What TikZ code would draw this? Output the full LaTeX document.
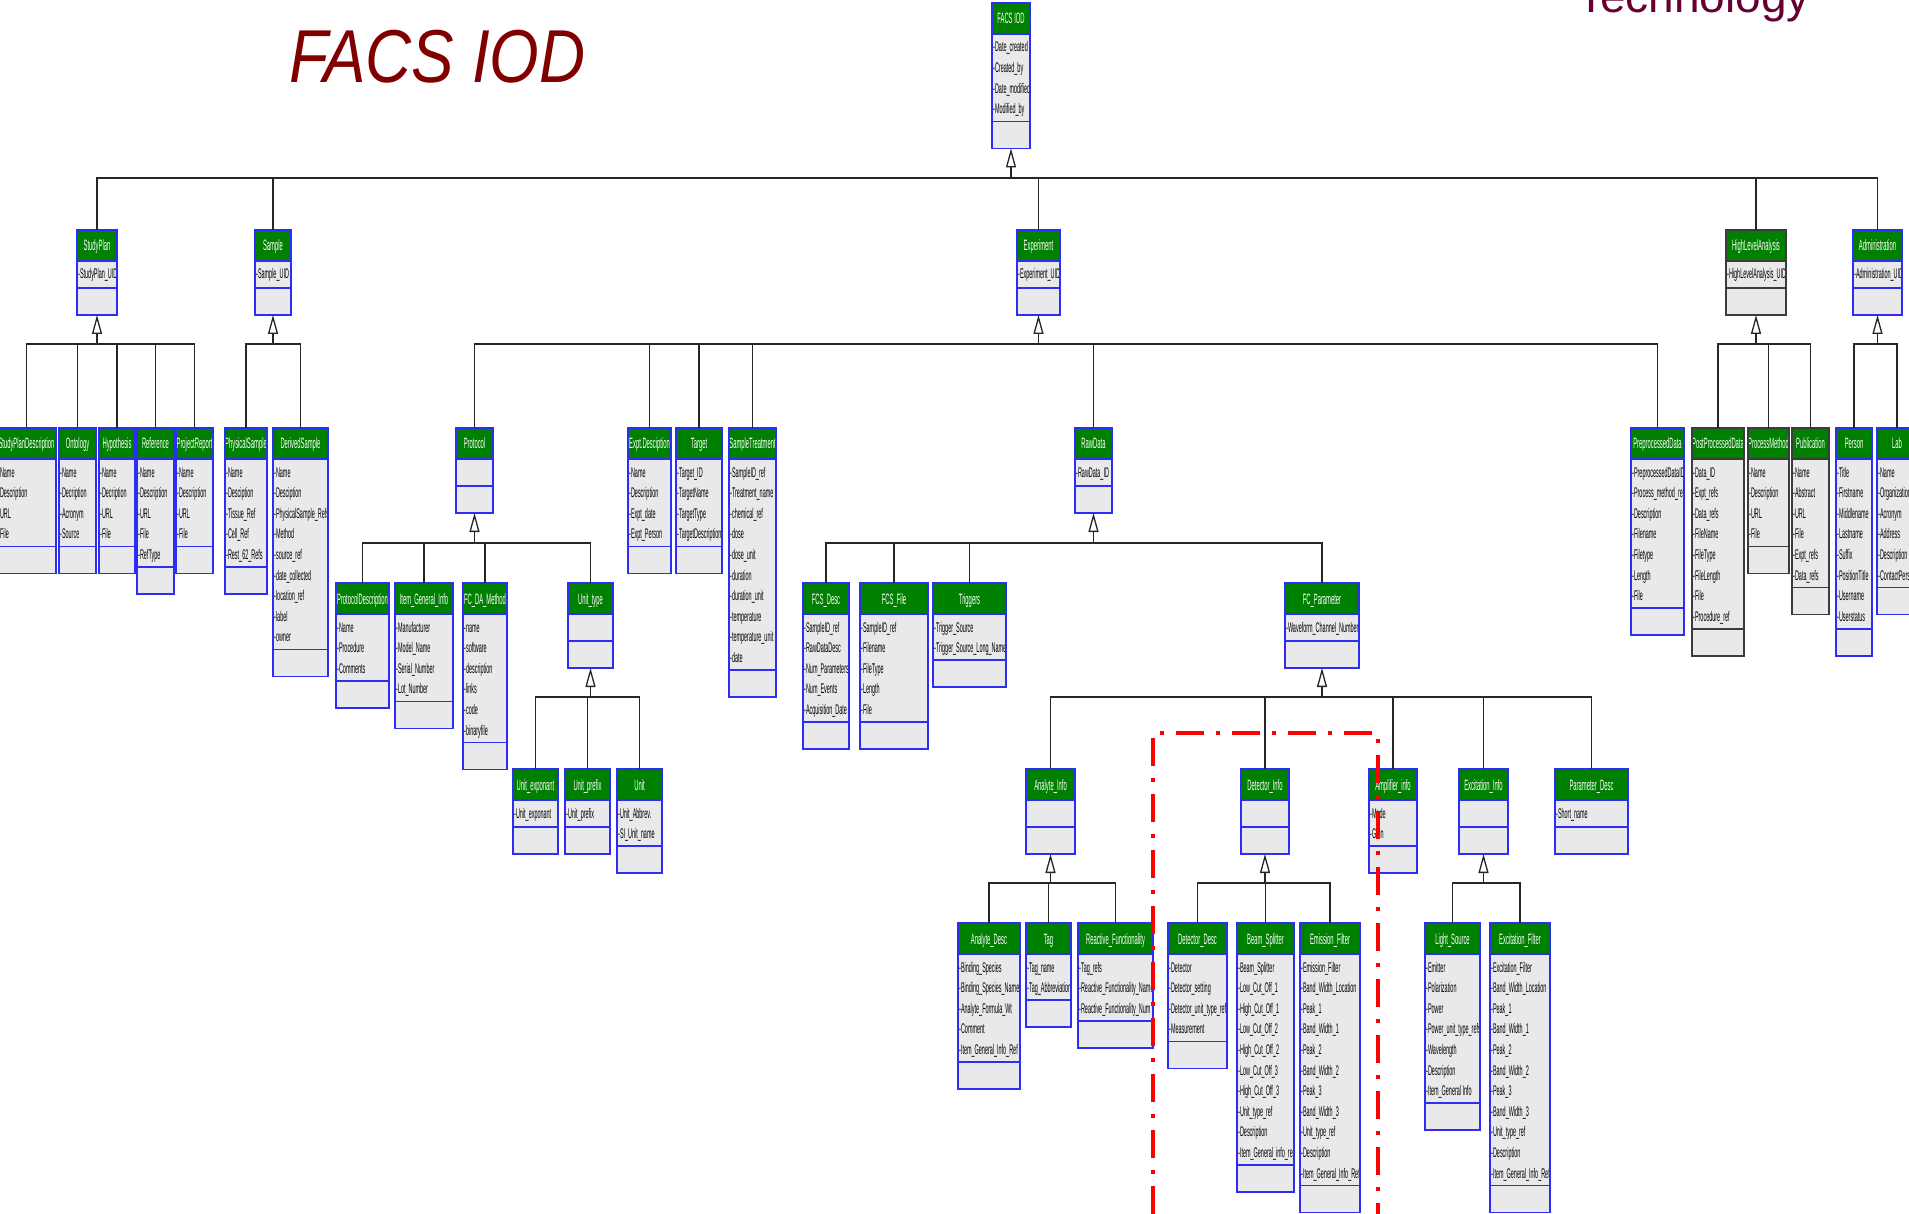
\documentclass[tikz,border=0pt]{standalone}
\usepackage{fontspec}
\setmainfont{Liberation Sans}
\newfontfamily\umlfont[FakeStretch=0.39]{Liberation Sans}
\newfontfamily\headfont[FakeStretch=0.85]{Liberation Sans}
\usetikzlibrary{arrows.meta,calc}
\definecolor{hdrgreen}{RGB}{0,128,0}
\definecolor{bodygray}{RGB}{233,233,233}
\definecolor{umlblue}{RGB}{45,45,245}
\definecolor{umldark}{RGB}{60,60,60}
\definecolor{titlered}{RGB}{128,0,0}
\definecolor{techmaroon}{RGB}{102,0,51}

\tikzset{
  classtitle/.style={font=\umlfont\fontsize{15}{17}\selectfont, text=white, inner sep=0, anchor=base},
  classattr/.style={font=\umlfont\fontsize{14}{16}\selectfont, text=black, inner sep=0, anchor=base west},
  classborder/.style={line width=1.5pt},
  conn/.style={line width=1.3pt, draw=black!85},
  gentip/.style={-{Triangle[length=19pt,width=10pt,fill=white]}},
  focusline/.style={draw=red, line width=4pt, dash pattern=on 28pt off 12pt on 4pt off 12pt},
}

% \umlclass[border]{name}{left}{right}{top}{rows}{title}{attributes}
\newcommand\umlclass[8][umlblue]{%
  \pgfmathsetmacro\clsHa{#5+31}%
  \pgfmathsetmacro\clsHb{\clsHa+max(#6*20.6+5,27)}%
  \pgfmathsetmacro\clsHc{\clsHb+27}%
  \pgfmathsetmacro\clsW{#4-(#3)}%
  \pgfmathsetmacro\clsH{\clsHc-(#5)}%
  \fill[bodygray] (#3,\clsHa) rectangle (#4,\clsHc);
  \fill[hdrgreen] (#3,#5) rectangle (#4,\clsHa);
  \begin{scope}
    \clip (#3,#5) rectangle (#4,\clsHc);
    \node[classtitle] at ({(#3+#4)/2},{#5+21}) {#7};
    \ifnum#6>0
      \foreach \t [count=\i] in {#8}{\node[classattr] at ({#3+1},{\clsHa+18+(\i-1)*20.6}) {-\t};}
    \fi
  \end{scope}
  \draw[classborder,draw=#1] (#3,#5) rectangle (#4,\clsHc) (#3,\clsHa) -- (#4,\clsHa) (#3,\clsHb) -- (#4,\clsHb);
  \node[inner sep=0,outer sep=0,minimum width=\clsW pt,minimum height=\clsH pt] (#2) at ({(#3+#4)/2},{(#5+\clsHc)/2}) {};
}

% \inherit{parent}{bus y}{children}
\newcommand\inherit[3]{%
  \coordinate (#1-bus) at (#1.south |- 0,#2);
  \foreach \c in {#3}{\draw[conn] (\c.north) |- (#1-bus);}
  \draw[conn,gentip] (#1-bus) -- (#1.south);
}

\begin{document}
\begin{tikzpicture}[x=1pt,y=-1pt]
\useasboundingbox (0,0) rectangle (1909,1214);
\fill[white] (0,0) rectangle (1909,1214);

% headings
\node[anchor=base west, inner sep=0, text=titlered, font=\headfont\itshape\fontsize{75}{80}\selectfont] (doctitle) at (289,83) {FACS IOD};
\node[anchor=base west, inner sep=0, text=techmaroon, font=\fontsize{46}{50}\selectfont] (techlabel) at (1577,13) {Technology};

% root
\umlclass{facs}{992}{1030}{3}{4}{FACS IOD}{Date\_created,Created\_by,Date\_modified,Modified\_by}

% first level
\umlclass{studyplan}{77}{117}{230}{1}{StudyPlan}{StudyPlan\_UID}
\umlclass{sample}{255}{291}{230}{1}{Sample}{Sample\_UID}
\umlclass{experiment}{1017}{1060}{230}{1}{Experiment}{Experiment\_UID}
\umlclass[umldark]{hla}{1726}{1786}{230}{1}{HighLevelAnalysis}{HighLevelAnalysis\_UID}
\umlclass{admin}{1853}{1902}{230}{1}{Administration}{Administration\_UID}

% second level
\umlclass{spdesc}{-3}{56}{428}{4}{StudyPlanDescription}{Name,Description,URL,File}
\umlclass{ontology}{59}{96}{428}{4}{Ontology}{Name,Decription,Acronym,Source}
\umlclass{hypothesis}{99}{135}{428}{4}{Hypothesis}{Name,Decription,URL,File}
\umlclass{reference}{137}{174}{428}{5}{Reference}{Name,Description,URL,File,RefType}
\umlclass{projreport}{176}{213}{428}{4}{ProjectReport}{Name,Description,URL,File}
\umlclass{physsample}{225}{267}{428}{5}{PhysicalSample}{Name,Desciption,Tissue\_Ref,Cell\_Ref,Rest\_62\_Refs}
\umlclass{derivsample}{273}{328}{428}{9}{DerivedSample}{Name,Desciption,PhysicalSample\_Refs,Method,source\_ref,date\_collected,location\_ref,label,owner}
\umlclass{protocol}{456}{493}{428}{0}{Protocol}{}
\umlclass{exptdesc}{628}{671}{428}{4}{Expt.Desciption}{Name,Description,Expt\_date,Expt\_Person}
\umlclass{target}{676}{722}{428}{4}{Target}{Target\_ID,TargetName,TargetType,TargetDescription}
\umlclass{sampletreat}{729}{776}{428}{10}{SampleTreatment}{SampleID\_ref,Treatment\_name,chemical\_ref,dose,dose\_unit,duration,duration\_unit,temperature,temperature\_unit,date}
\umlclass{rawdata}{1075}{1112}{428}{1}{RawData}{RawData\_ID}
\umlclass{preproc}{1631}{1684}{428}{7}{PreprocessedData}{PreprocessedDataID,Process\_method\_ref,Description,Filename,Filetype,Length,File}
\umlclass[umldark]{postproc}{1692}{1744}{428}{8}{PostProcessedData}{Data\_ID,Expt\_refs,Data\_refs,FileName,FileType,FileLength,File,Procedure\_ref}
\umlclass[umldark]{procmethod}{1748}{1789}{428}{4}{ProcessMethod}{Name,Description,URL,File}
\umlclass[umldark]{publication}{1792}{1829}{428}{6}{Publication}{Name,Abstract,URL,File,Expt\_refs,Data\_refs}
\umlclass{person}{1836}{1872}{428}{8}{Person}{Title,Firstname,Middlename,Lastname,Suffix,PositionTitle,Username,Userstatus}
\umlclass{lab}{1877}{1917}{428}{6}{Lab}{Name,Organization,Acronym,Address,Description,ContactPerson}

% third level
\umlclass{protdesc}{336}{389}{583}{3}{ProtocolDescription}{Name,Procedure,Comments}
\umlclass{itemgi}{395}{453}{583}{4}{Item\_General\_Info}{Manufacturer,Model\_Name,Serial\_Number,Lot\_Number}
\umlclass{fcda}{463}{507}{583}{6}{FC\_DA\_Method}{name,software,description,links,code,binaryfile}
\umlclass{unittype}{568}{613}{583}{0}{Unit\_type}{}
\umlclass{fcsdesc}{803}{849}{583}{5}{FCS\_Desc}{SampleID\_ref,RawDataDesc,Num\_Parameters,Num\_Events,Acquisition\_Date}
\umlclass{fcsfile}{860}{928}{583}{5}{FCS\_File}{SampleID\_ref,Filename,FileType,Length,File}
\umlclass{triggers}{933}{1006}{583}{2}{Triggers}{Trigger\_Source,Trigger\_Source\_Long\_Name}
\umlclass{fcparam}{1285}{1359}{583}{1}{FC\_Parameter}{Waveform\_Channel\_Number}

% fourth level
\umlclass{unitexp}{513}{558}{769}{1}{Unit\_exponant}{Unit\_exponant}
\umlclass{unitprefix}{565}{610}{769}{1}{Unit\_prefix}{Unit\_prefix}
\umlclass{unit}{617}{662}{769}{2}{Unit}{Unit\_Abbrev.,SI\_Unit\_name}
\umlclass{analyteinfo}{1026}{1075}{769}{0}{Analyte\_Info}{}
\umlclass{detinfo}{1241}{1289}{769}{0}{Detector\_Info}{}
\umlclass{ampinfo}{1369}{1417}{769}{2}{Amplifier\_info}{Mode,Gain}
\umlclass{excinfo}{1459}{1508}{769}{0}{Excitation\_Info}{}
\umlclass{paramdesc}{1555}{1628}{769}{1}{Parameter\_Desc}{Short\_name}

% fifth level
\umlclass{analytedesc}{958}{1020}{923}{5}{Analyte\_Desc}{Binding\_Species,Binding\_Species\_Name,Analyte\_Formula\_Wt,Comment,Item\_General\_Info\_Ref}
\umlclass{tag}{1026}{1071}{923}{2}{Tag}{Tag\_name,Tag\_Abbreviation}
\umlclass{reactive}{1078}{1153}{923}{3}{Reactive\_Functionality}{Tag\_refs,Reactive\_Functionality\_Name,Reactive\_Functionality\_Num}
\umlclass{detdesc}{1168}{1227}{923}{4}{Detector\_Desc}{Detector,Detector\_setting,Detector\_unit\_type\_ref,Measurement}
\umlclass{beamsplit}{1237}{1294}{923}{10}{Beam\_Splitter}{Beam\_Splitter,Low\_Cut\_Off\_1,High\_Cut\_Off\_1,Low\_Cut\_Off\_2,High\_Cut\_Off\_2,Low\_Cut\_Off\_3,High\_Cut\_Off\_3,Unit\_type\_ref,Description,Item\_General\_info\_ref}
\umlclass{emfilter}{1300}{1360}{923}{11}{Emission\_Filter}{Emission\_Filter,Band\_Width\_Location,Peak\_1,Band\_Width\_1,Peak\_2,Band\_Width\_2,Peak\_3,Band\_Width\_3,Unit\_type\_ref,Description,Item\_General\_Info\_Ref}
\umlclass{lightsrc}{1425}{1480}{923}{7}{Light\_Source}{Emitter,Polarization,Power,Power\_unit\_type\_refs,Wavelength,Description,Item\_General Info}
\umlclass{excfilter}{1490}{1550}{923}{11}{Excitation\_Filter}{Excitation\_Filter,Band\_Width\_Location,Peak\_1,Band\_Width\_1,Peak\_2,Band\_Width\_2,Peak\_3,Band\_Width\_3,Unit\_type\_ref,Description,Item\_General\_Info\_Ref}

% generalisation connectors
\inherit{facs}{178}{studyplan,sample,experiment,hla,admin}
\inherit{studyplan}{344}{spdesc,ontology,hypothesis,reference,projreport}
\inherit{sample}{344}{physsample,derivsample}
\inherit{experiment}{344}{protocol,exptdesc,target,sampletreat,rawdata,preproc}
\inherit{hla}{344}{postproc,procmethod,publication}
\inherit{admin}{344}{person,lab}
\inherit{protocol}{543}{protdesc,itemgi,fcda,unittype}
\inherit{rawdata}{543}{fcsdesc,fcsfile,triggers,fcparam}
\inherit{unittype}{697}{unitexp,unitprefix,unit}
\inherit{fcparam}{697}{analyteinfo,detinfo,ampinfo,excinfo,paramdesc}
\inherit{analyteinfo}{883}{analytedesc,tag,reactive}
\inherit{detinfo}{883}{detdesc,beamsplit,emfilter}
\inherit{excinfo}{883}{lightsrc,excfilter}

% highlighted region
\coordinate (fa) at (1153,1214);
\coordinate (fb) at (1153,733);
\coordinate (fc) at (1378,733);
\coordinate (fd) at (1378,1214);
\draw[focusline] (fa) -- (fb) -- (fc) -- (fd);
\end{tikzpicture}
\end{document}
